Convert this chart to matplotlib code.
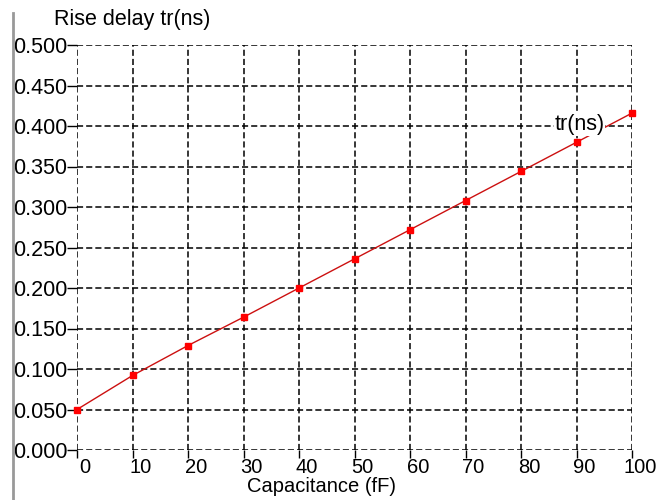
import matplotlib
matplotlib.use("Agg")
import matplotlib.pyplot as plt
from matplotlib.lines import Line2D
import matplotlib.transforms as mtransforms

plt.rcParams['font.family'] = ['Liberation Sans', 'DejaVu Sans']

capacitance = [0, 10, 20, 30, 40, 50, 60, 70, 80, 90, 100]
rise_delay = [0.050, 0.092, 0.129, 0.164, 0.200, 0.236, 0.272, 0.308, 0.344, 0.380, 0.416]
x_ticks = [0, 10, 20, 30, 40, 50, 60, 70, 80, 90, 100]
y_ticks = [0.0, 0.05, 0.1, 0.15, 0.2, 0.25, 0.3, 0.35, 0.4, 0.45, 0.5]
y_tick_labels = ["0.000", "0.050", "0.100", "0.150", "0.200", "0.250",
                 "0.300", "0.350", "0.400", "0.450", "0.500"]

fig = plt.figure(figsize=(6.64, 5.0), dpi=100)
ax = fig.add_axes([0.116, 0.10, 0.836, 0.81])

ax.plot(capacitance, rise_delay, color='#cc1010', lw=1.0, marker='s',
        markersize=4.5, markerfacecolor='red', markeredgecolor='red',
        zorder=3, clip_on=False)

ax.set_xlim(0, 100)
ax.set_ylim(0, 0.5)
ax.set_xticks(x_ticks)
ax.set_yticks(y_ticks)
ax.set_yticklabels(y_tick_labels)
for s in ax.spines.values():
    s.set_visible(False)
ax.grid(True, color='black', linestyle=(0, (4, 2)), linewidth=1.1)
ax.tick_params(axis='y', labelsize=15.5, length=7, width=1.0, color='black', pad=0)
ax.tick_params(axis='x', labelsize=14.5, length=6, width=1.0, color='black', pad=0)

offset = mtransforms.ScaledTranslation(8/100, 0, fig.dpi_scale_trans)
for lbl in ax.get_xticklabels():
    lbl.set_transform(lbl.get_transform() + offset)

ax.set_xlabel("Capacitance (fF)", fontsize=14.5)
ax.xaxis.set_label_coords(0.44, -0.066)
fig.text(0.082, 0.962, "Rise delay tr(ns)", fontsize=15.5, ha='left', va='center')

ax.text(90.5, 0.402, "tr(ns)", fontsize=15.5, ha='center', va='center',
        bbox=dict(facecolor='white', edgecolor='none', pad=0.5), zorder=4)

fig.add_artist(Line2D([0.02, 0.02], [0.0, 0.975], color='#999999', lw=2,
                      transform=fig.transFigure))

fig.savefig("out.png", dpi=100)
